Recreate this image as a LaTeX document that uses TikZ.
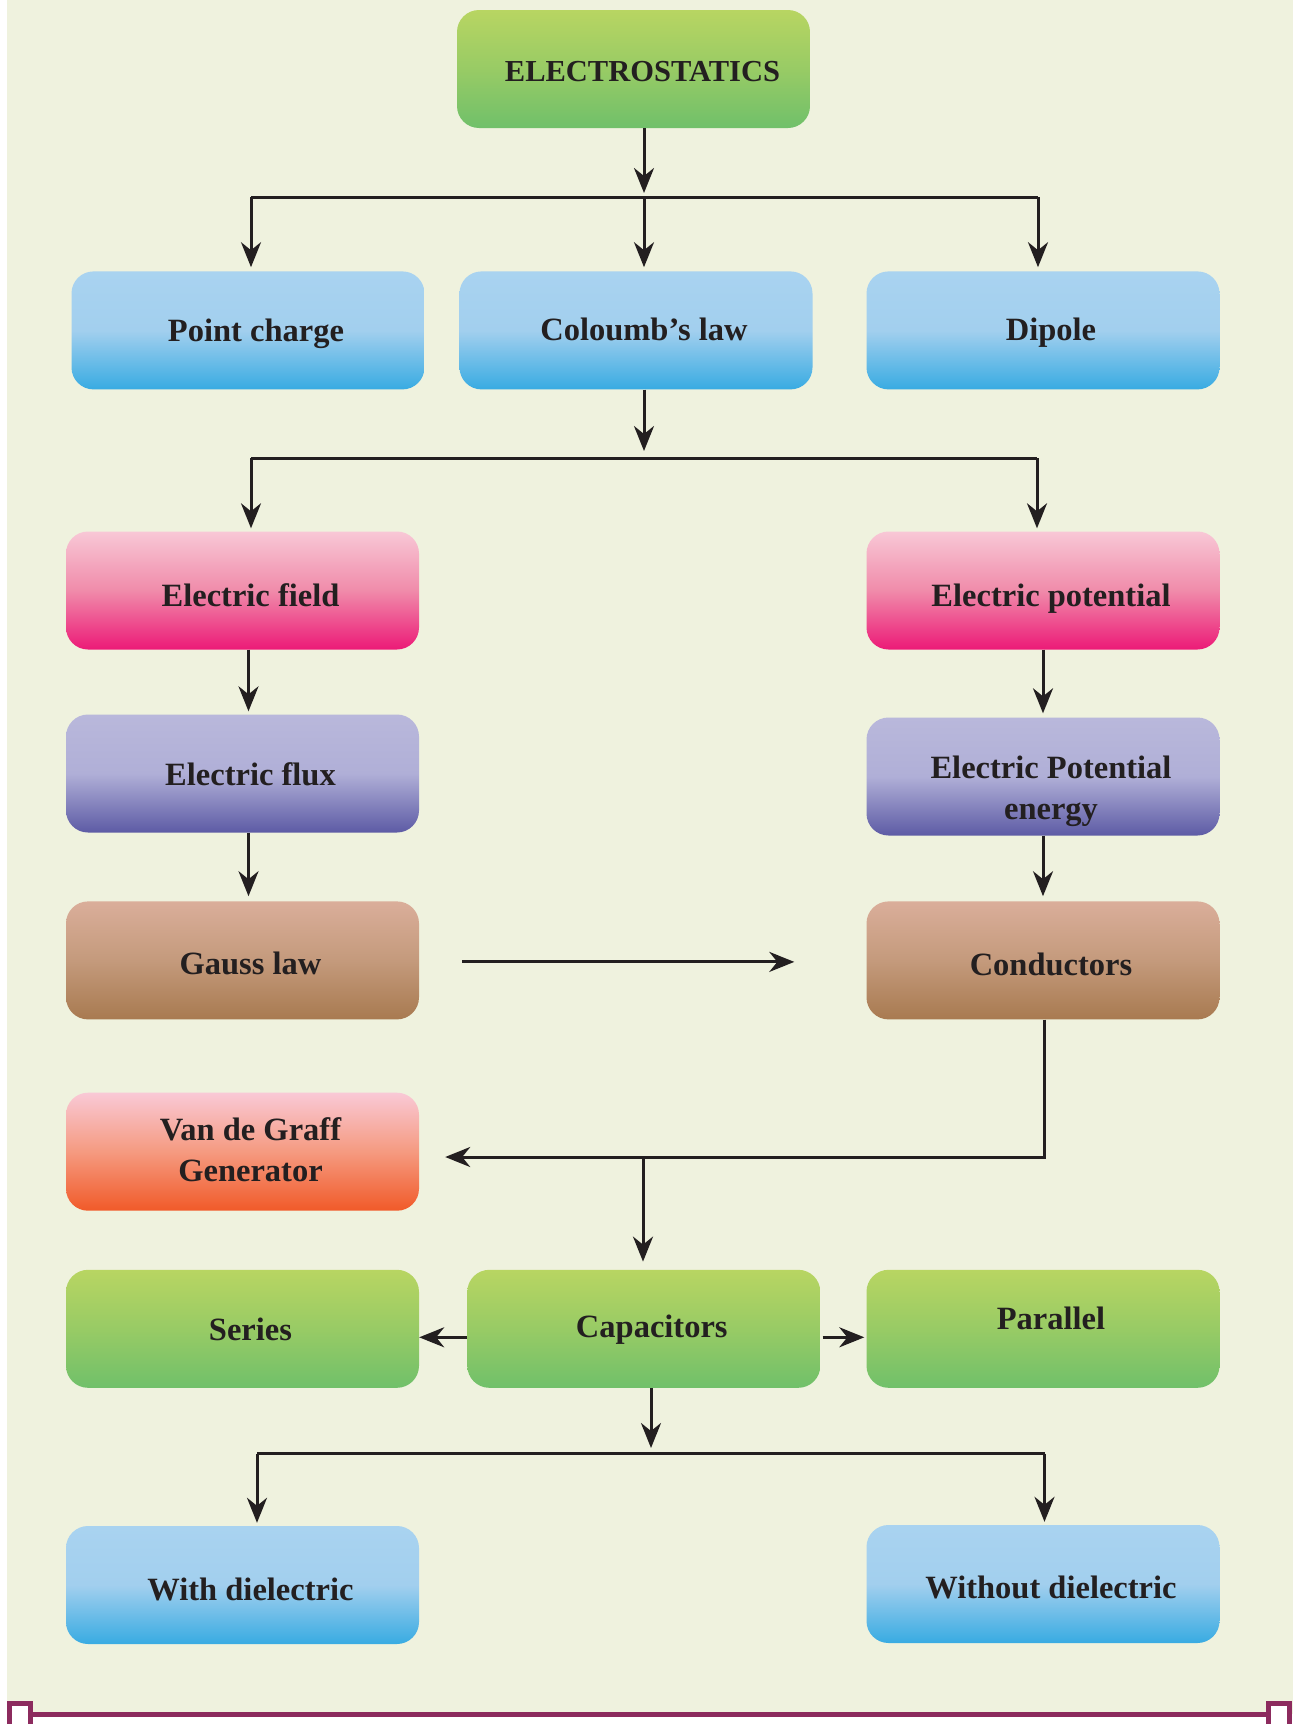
\documentclass[tikz,border=0pt]{standalone}
\usepackage{fontspec}
\setmainfont{Liberation Serif}
\usetikzlibrary{arrows.meta,calc}
\definecolor{cream}{HTML}{EFF2DE}
\definecolor{ink}{HTML}{231F20}
\definecolor{maroon}{HTML}{8C2B5E}
\definecolor{gT}{HTML}{B8D562}\definecolor{gM}{HTML}{98CB65}\definecolor{gB}{HTML}{70C06A}
\definecolor{bT}{HTML}{A9D3F0}\definecolor{bM}{HTML}{A2CFEE}\definecolor{bB}{HTML}{38ABE2}
\definecolor{pT}{HTML}{F8C8D6}\definecolor{pM}{HTML}{F08BAA}\definecolor{pB}{HTML}{EC1A77}
\definecolor{uT}{HTML}{B9B8DB}\definecolor{uM}{HTML}{B0AFD7}\definecolor{uB}{HTML}{5D5BA5}
\definecolor{rT}{HTML}{DAAE9A}\definecolor{rM}{HTML}{C49A7C}\definecolor{rB}{HTML}{A87A50}
\definecolor{oT}{HTML}{F9C9D6}\definecolor{oM}{HTML}{F59A80}\definecolor{oB}{HTML}{F15A29}
\begin{document}
\begin{tikzpicture}[x=1pt,y=-1pt,
  box/.style={rounded corners=22pt, minimum width=353pt, minimum height=118pt, inner sep=0pt, draw=none, shade},
  grn/.style={box, top color=gT, bottom color=gB, middle color=gM},
  blu/.style={box, top color=bT, bottom color=bB, middle color=bM},
  pnk/.style={box, top color=pT, bottom color=pB, middle color=pM},
  pur/.style={box, top color=uT, bottom color=uB, middle color=uM},
  brn/.style={box, top color=rT, bottom color=rB, middle color=rM},
  org/.style={box, top color=oT, bottom color=oB, middle color=oM},
  lbl/.style={text=ink, font=\fontsize{32.5}{41}\selectfont\bfseries, align=center, xshift=8pt, inner sep=0pt},
  one/.style={lbl, text height=23pt, text depth=7pt, yshift={8pt-#1}},
  ln/.style={draw=ink, line width=3pt},
  arr/.style={ln, -{Stealth[length=25pt, width=20pt, inset=8pt]}}
]
\useasboundingbox (0,0) rectangle (1293,1724);
\fill[white] (0,0) rectangle (1293,1724);
\fill[cream] (7,0) rectangle (1293,1714);
% bottom border
\draw[maroon, line width=5pt] (30,1714) -- (1266,1714);
\draw[maroon, line width=5pt, fill=white] (9.5,1730) -- (9.5,1703.5) -- (30,1703.5) -- (30,1730);
\draw[maroon, line width=5pt, fill=white] (1268.5,1730) -- (1268.5,1703.5) -- (1289.5,1703.5) -- (1289.5,1730);

% boxes
\node[grn, label={[one=12pt, xshift=1pt, font=\fontsize{30.5}{40}\selectfont\bfseries]center:ELECTROSTATICS}] (es) at (633.5,69) {};
\node[blu, label={[one=10.8pt]center:Point charge}] (pc) at (248,330.4) {};
\node[blu, label={[one=10.5pt]center:Coloumb’s law}] (cl) at (636,330.4) {};
\node[blu, label={[one=10.5pt]center:Dipole}] (dp) at (1043,330.4) {};
\node[pnk, label={[one=16pt]center:Electric field}] (ef) at (242.5,590.5) {};
\node[pnk, label={[one=16pt]center:Electric potential}] (ep) at (1043,590.5) {};
\node[pur, label={[one=11.5pt]center:Electric flux}] (fx) at (242.5,773.5) {};
\node[pur, label={[lbl, yshift=-14.5pt]center:{Electric Potential\\energy}}] (epe) at (1043,776.5) {};
\node[brn, label={[one=14.5pt]center:Gauss law}] (gl) at (242.5,960.4) {};
\node[brn, label={[one=15.5pt]center:Conductors}] (cd) at (1043,960.4) {};
\node[org, label={[lbl, yshift=2pt]center:{Van de Graff\\Generator}}] (vg) at (242.5,1151.7) {};
\node[grn, label={[one=12pt]center:Series}] (se) at (242.5,1328.8) {};
\node[grn, label={[one=8.5pt]center:Capacitors}] (cp) at (643.8,1328.8) {};
\node[grn, label={[one=0.5pt]center:Parallel}] (pa) at (1043,1328.8) {};
\node[blu, label={[one=15pt]center:With dielectric}] (wd) at (242.5,1585) {};
\node[blu, label={[one=14pt]center:Without dielectric}] (wo) at (1043,1584) {};

% bus coordinates
\coordinate (b1) at (644,197);
\coordinate (b1l) at (251,197);
\coordinate (b1r) at (1038,197);
\coordinate (b2) at (644,458);
\coordinate (b2l) at (251,458);
\coordinate (b2r) at (1037,458);
\coordinate (c1) at (1044.5,1157);
\coordinate (c2) at (643,1157);
\coordinate (c3) at (651,1453.5);
\coordinate (b3l) at (257,1453.5);
\coordinate (b3r) at (1044.5,1453.5);

% connectors
\draw[arr, shorten >=4pt] (es.south -| b1) -- (b1);
\draw[ln] (b1l) -- (b1r);
\draw[arr, shorten >=4pt] (b1l) -- (b1l |- pc.north);
\draw[arr, shorten >=4pt] (b1) -- (b1 |- cl.north);
\draw[arr, shorten >=4pt] (b1r) -- (b1r |- dp.north);

\draw[arr, shorten >=7pt] (cl.south -| b2) -- (b2);
\draw[ln] (b2l) -- (b2r);
\draw[arr, shorten >=3pt] (b2l) -- (b2l |- ef.north);
\draw[arr, shorten >=3pt] (b2r) -- (b2r |- ep.north);

\draw[arr, shorten >=3pt] ([xshift=6pt]ef.south) -- ([xshift=6pt]fx.north);
\draw[arr, shorten >=5pt] ([xshift=6pt]fx.south) -- ([xshift=6pt]gl.north);
\draw[arr, shorten >=4pt] (ep.south) -- (epe.north);
\draw[arr, shorten >=5pt] (epe.south) -- (cd.north);
\draw[arr, shorten <=43pt, shorten >=72pt] ([yshift=-1.5pt]gl.east) -- ([yshift=-1.5pt]cd.west);

\draw[arr, shorten >=26pt] (c1 |- cd.south) -- (c1) -- (c1 -| vg.east);
\draw[arr, shorten >=8pt] (c2) -- (c2 |- cp.north);

\draw[arr] ([yshift=-8.5pt]cp.west) -- ([yshift=-8.5pt]se.east);
\draw[arr, shorten <=2pt, shorten >=2pt] ([yshift=-8.5pt]cp.east) -- ([yshift=-8.5pt]pa.west);

\draw[arr, shorten >=5.5pt] (cp.south -| c3) -- (c3);
\draw[ln] (b3l) -- (b3r);
\draw[arr, shorten >=3pt] (b3l) -- (b3l |- wd.north);
\draw[arr, shorten >=3pt] (b3r) -- (b3r |- wo.north);
\end{tikzpicture}
\end{document}
